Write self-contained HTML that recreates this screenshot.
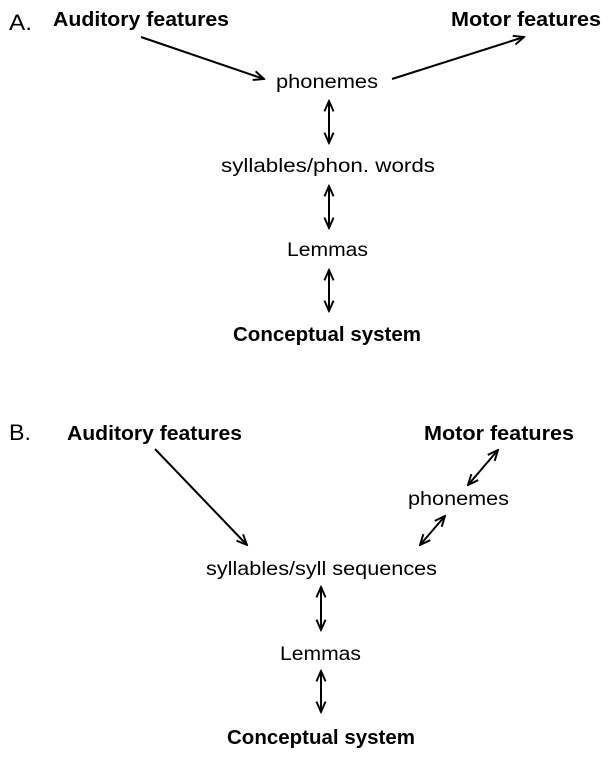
<!DOCTYPE html>
<html><head><style>html,body{margin:0;padding:0;background:#fff}svg{display:block}</style></head>
<body>
<svg width="609" height="757" viewBox="0 0 609 757" xmlns="http://www.w3.org/2000/svg" font-family="Liberation Sans, sans-serif">
<defs>
<marker id="a" viewBox="0 0 10 10" refX="9" refY="5" markerWidth="13" markerHeight="13" orient="auto-start-reverse" markerUnits="userSpaceOnUse">
<path d="M1,1.5 L9,5 L1,8.5" fill="none" stroke="#000" stroke-width="1.5"/>
</marker>
</defs>
<g fill="#000">
<text x="9" y="30" font-size="22" textLength="23" lengthAdjust="spacingAndGlyphs">A.</text>
<text x="53" y="26" font-size="20" font-weight="bold" textLength="176" lengthAdjust="spacingAndGlyphs">Auditory features</text>
<text x="451" y="26" font-size="20" font-weight="bold" textLength="150" lengthAdjust="spacingAndGlyphs">Motor features</text>
<text x="276" y="88" font-size="19" textLength="102" lengthAdjust="spacingAndGlyphs">phonemes</text>
<text x="221" y="172" font-size="19" textLength="214" lengthAdjust="spacingAndGlyphs">syllables/phon. words</text>
<text x="287" y="256" font-size="19" textLength="81" lengthAdjust="spacingAndGlyphs">Lemmas</text>
<text x="233" y="341" font-size="20" font-weight="bold" textLength="188" lengthAdjust="spacingAndGlyphs">Conceptual system</text>

<text x="9" y="440" font-size="22" textLength="22" lengthAdjust="spacingAndGlyphs">B.</text>
<text x="67" y="440" font-size="20" font-weight="bold" textLength="175" lengthAdjust="spacingAndGlyphs">Auditory features</text>
<text x="424" y="440" font-size="20" font-weight="bold" textLength="150" lengthAdjust="spacingAndGlyphs">Motor features</text>
<text x="408" y="505" font-size="19" textLength="101" lengthAdjust="spacingAndGlyphs">phonemes</text>
<text x="206" y="575" font-size="19" textLength="231" lengthAdjust="spacingAndGlyphs">syllables/syll sequences</text>
<text x="280" y="660" font-size="19" textLength="81" lengthAdjust="spacingAndGlyphs">Lemmas</text>
<text x="227" y="744" font-size="20" font-weight="bold" textLength="188" lengthAdjust="spacingAndGlyphs">Conceptual system</text>
</g>
<g stroke="#000" stroke-width="2" fill="none">
<line x1="141" y1="37" x2="264" y2="79" marker-end="url(#a)"/>
<line x1="392" y1="79" x2="524" y2="37" marker-end="url(#a)"/>
<line x1="329" y1="101" x2="329" y2="143" marker-start="url(#a)" marker-end="url(#a)"/>
<line x1="329" y1="186" x2="329" y2="228" marker-start="url(#a)" marker-end="url(#a)"/>
<line x1="329" y1="270" x2="329" y2="311" marker-start="url(#a)" marker-end="url(#a)"/>

<line x1="155" y1="449" x2="247" y2="545" marker-end="url(#a)"/>
<line x1="498" y1="450" x2="468" y2="485" marker-start="url(#a)" marker-end="url(#a)"/>
<line x1="445" y1="516" x2="420" y2="545" marker-start="url(#a)" marker-end="url(#a)"/>
<line x1="321" y1="587" x2="321" y2="630" marker-start="url(#a)" marker-end="url(#a)"/>
<line x1="321" y1="671" x2="321" y2="712" marker-start="url(#a)" marker-end="url(#a)"/>
</g>
</svg>
</body></html>
